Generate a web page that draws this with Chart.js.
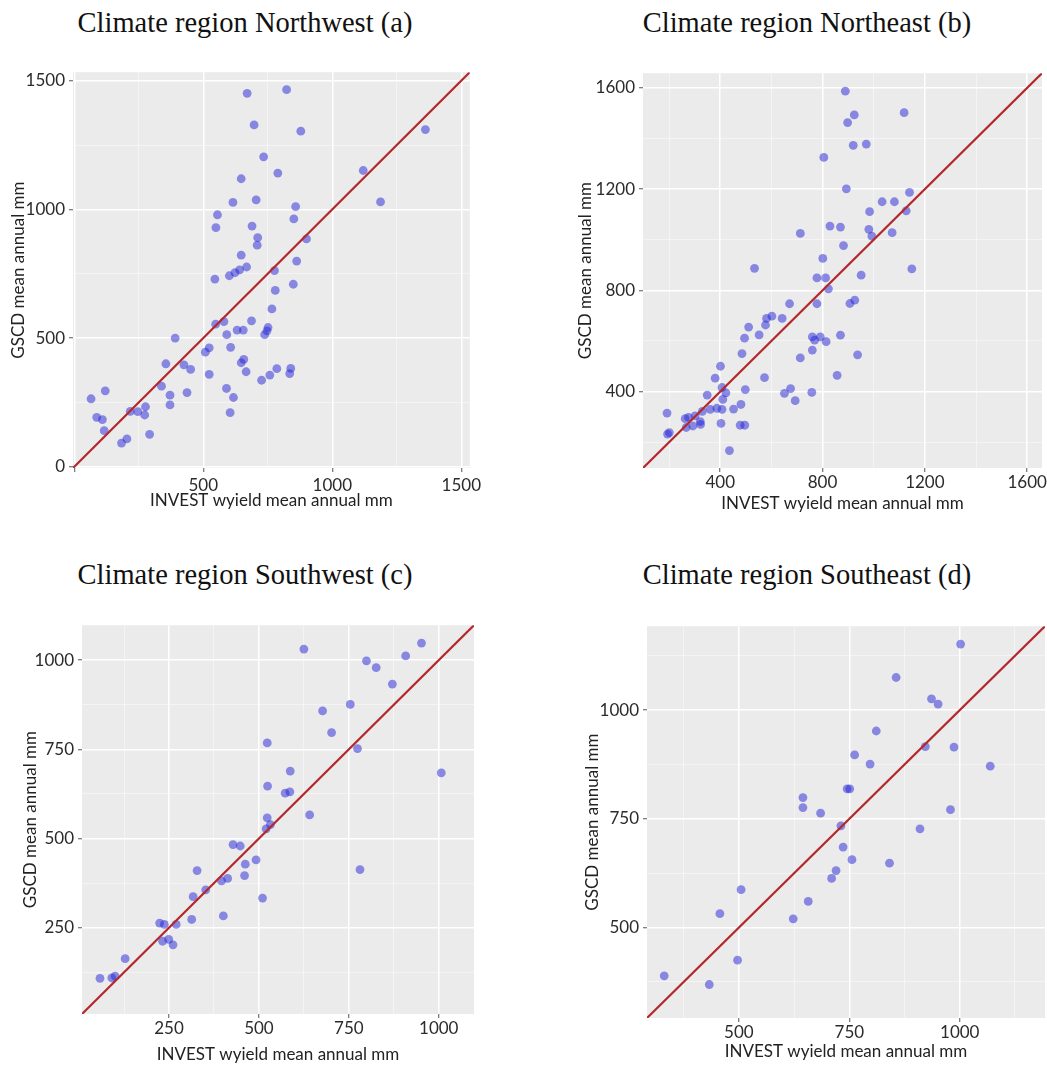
<!DOCTYPE html>
<html>
<head>
<meta charset="utf-8">
<script src="https://cdn.jsdelivr.net/npm/chart.js@4.4.1/dist/chart.umd.min.js"></script>
<style>
  body { margin: 0; background: #fff; width: 1047px; height: 1066px; position: relative; overflow: hidden; }
  .title { position: absolute; font-family: "Liberation Serif", serif; font-size: 28.5px; color: #111; transform: translateX(-50%); white-space: nowrap; }
  canvas { position: absolute; }
</style>
</head>
<body>
<div class="title" style="left:245px;top:7px">Climate region Northwest (a)</div>
<div class="title" style="left:807px;top:7px">Climate region Northeast (b)</div>
<div class="title" style="left:245px;top:559px">Climate region Southwest (c)</div>
<div class="title" style="left:807px;top:559px">Climate region Southeast (d)</div>
<canvas id="nw"></canvas>
<canvas id="ne"></canvas>
<canvas id="sw"></canvas>
<canvas id="se"></canvas>
<script>
// Northwest (a)
const nwX = [670, 823, 697, 878, 1361, 734, 789, 1120, 647, 705, 615, 1187, 858, 555, 851, 549, 689, 711, 709, 900,
  647, 862, 545, 601, 623, 641, 668, 776, 779, 849, 766, 548, 580, 687, 631, 655, 751, 747, 738, 591,
  391, 523, 508, 606, 657, 647, 666, 523, 355, 425, 451, 785, 839, 835, 758, 726, 338, 437, 371, 371,
  590, 617, 604, 65, 120, 87, 109, 116, 217, 246, 276, 273, 292, 204, 183];
const nwY = [1451, 1465, 1328, 1304, 1310, 1204, 1141, 1151, 1119, 1037, 1027, 1029, 1011, 979, 963, 929, 935, 890, 861, 885,
  822, 799, 729, 742, 754, 765, 776, 762, 685, 709, 613, 554, 564, 567, 531, 531, 541, 528, 513, 513,
  500, 462, 445, 464, 417, 404, 369, 359, 400, 396, 378, 381, 382, 362, 356, 336, 313, 288, 278, 240,
  304, 269, 210, 264, 295, 192, 183, 140, 215, 214, 233, 201, 126, 108, 92];
const nwRange = [-5, 1533];
const nwMajor = [0, 500, 1000, 1500];
const nwMinor = [250, 750, 1250];
const nwLabelsX = [500, 1000, 1500];
const nwLabelsY = [0, 500, 1000, 1500];

// Northeast (b)
const neX = [889, 924, 898, 1119, 920, 971, 805, 893, 1140, 1033, 1081, 984, 1127, 829, 870, 981, 993, 1072, 713, 882,
  801, 534, 1149, 778, 812, 951, 823, 671, 778, 907, 926, 602, 581, 577, 642, 511, 552, 495, 760, 791,
  769, 814, 870, 760, 713, 937, 485, 401, 380, 573, 857, 651, 675, 758, 693, 498, 407, 422, 349, 410,
  361, 387, 407, 452, 481, 403, 478, 496, 436, 192, 201, 194, 263, 276, 302, 267, 293, 323, 330, 322];
const neY = [1587, 1493, 1463, 1502, 1373, 1378, 1325, 1201, 1187, 1150, 1150, 1111, 1114, 1054, 1050, 1041, 1014, 1028, 1025, 977,
  926, 887, 885, 849, 849, 860, 806, 747, 747, 748, 761, 698, 689, 663, 689, 655, 624, 611, 616, 616,
  603, 597, 623, 564, 533, 545, 550, 500, 453, 455, 464, 393, 412, 397, 364, 408, 416, 395, 386, 369,
  330, 334, 330, 331, 349, 274, 267, 267, 167, 315, 238, 232, 293, 298, 304, 258, 264, 270, 322, 281];
const neRange = [98, 1658];
const neMajor = [400, 800, 1200, 1600];
const neMinor = [200, 600, 1000, 1400];
const neLabelsX = [400, 800, 1200, 1600];
const neLabelsY = [400, 800, 1200, 1600];

// Southwest (c)
const swX = [625, 952, 908, 799, 826, 871, 754, 677, 702, 523, 774, 587, 1007, 524, 573, 586, 641, 523, 532, 520,
  428, 448, 492, 462, 460, 328, 396, 413, 781, 352, 317, 510, 401, 313, 224, 237, 270, 232, 249, 261,
  128, 58, 91, 100];
const swY = [1031, 1048, 1012, 998, 979, 933, 876, 858, 797, 768, 752, 689, 684, 647, 627, 631, 566, 558, 539, 527,
  483, 479, 440, 428, 396, 410, 381, 388, 413, 356, 337, 333, 283, 273, 263, 259, 259, 212, 217, 202,
  163, 108, 109, 114];
const swRange = [8, 1098];
const swMajor = [250, 500, 750, 1000];
const swMinor = [125, 375, 625, 875];
const swLabelsX = [250, 500, 750, 1000];
const swLabelsY = [250, 500, 750, 1000];

// Southeast (d)
const seX = [1002, 856, 936, 951, 811, 762, 797, 922, 987, 1069, 745, 751, 645, 645, 685, 979, 731, 910, 736, 756,
  841, 720, 710, 505, 657, 457, 623, 497, 331, 433];
const seY = [1152, 1075, 1026, 1014, 952, 897, 876, 916, 915, 871, 819, 819, 799, 776, 763, 771, 734, 727, 685, 656,
  648, 631, 613, 587, 560, 532, 520, 425, 389, 369];
const seRange = [292, 1193];
const seMajor = [500, 750, 1000];
const seMinor = [375, 625, 875, 1125];
const seLabelsX = [500, 750, 1000];
const seLabelsY = [500, 750, 1000];

const PANEL_BG = "#EBEBEB";
const POINT_COLOR = "rgba(35, 35, 215, 0.5)";
const LINE_COLOR = "#B3282B";

// grey panel behind the grid
const panelBg = {
    id: "panelBg",
    beforeDraw(chart) {
        const a = chart.chartArea;
        const ctx = chart.ctx;
        ctx.save();
        ctx.fillStyle = PANEL_BG;
        ctx.fillRect(a.left, a.top, a.right - a.left, a.bottom - a.top);
        ctx.restore();
    }
};

function axis(range, major, minor, labels, title, labelPad, size) {
    const all = major.concat(minor).filter(v => v >= range[0] && v <= range[1]).sort((a, b) => a - b);
    return {
        type: "linear",
        min: range[0],
        max: range[1],
        afterBuildTicks: s => { s.ticks = all.map(v => ({ value: v })); },
        afterFit: s => {
            if (s.isHorizontal()) s.height = size; else s.width = size;
        },
        ticks: {
            autoSkip: false,
            maxRotation: 0,
            padding: labelPad,
            color: "#2b2b2b",
            font: { family: "Lato", size: 17 },
            callback: v => labels.includes(v) ? String(v) : ""
        },
        grid: {
            color: c => major.includes(c.tick.value) ? "#ffffff" : "rgba(255,255,255,0.55)",
            lineWidth: c => major.includes(c.tick.value) ? 1.5 : 0.8,
            tickColor: c => major.includes(c.tick.value) ? "#555" : "rgba(0,0,0,0)",
            tickLength: 4,
            tickWidth: 1
        },
        border: { display: false },
        title: {
            display: true,
            text: title,
            color: "#222",
            padding: 0,
            font: { family: "Lato", size: 17 }
        }
    };
}

function makePanel(id, xs, ys, range, major, minor, labelsX, labelsY, box) {
    const wy = box.l - box.yTitleX + 10;
    const hx = box.xTitleY - box.b + 10;
    const left = box.l - wy;
    const top = box.t - 10;
    const width = box.r + 10 - left;
    const height = box.b + hx - top;
    const canvas = document.getElementById(id);
    canvas.width = width;
    canvas.height = height;
    canvas.style.left = left + "px";
    canvas.style.top = top + "px";
    canvas.style.width = width + "px";
    canvas.style.height = height + "px";

    const xPad = Math.max(0, box.xTickY - box.b - 4 - 10.2);

    new Chart(canvas, {
        type: "scatter",
        data: {
            datasets: [
                {
                    label: "1:1",
                    data: [{ x: range[0], y: range[0] }, { x: range[1], y: range[1] }],
                    showLine: true,
                    borderColor: LINE_COLOR,
                    borderWidth: 2.2,
                    pointRadius: 0
                },
                {
                    label: "basins",
                    data: xs.map((x, i) => ({ x: x, y: ys[i] })),
                    backgroundColor: POINT_COLOR,
                    borderWidth: 0,
                    pointRadius: 4.4
                }
            ]
        },
        options: {
            responsive: false,
            animation: false,
            layout: { padding: { left: 0, top: 10, right: 10, bottom: 0 } },
            plugins: { legend: { display: false }, tooltip: { enabled: false } },
            scales: {
                x: axis(range, major, minor, labelsX, "INVEST wyield mean annual mm", xPad, hx),
                y: axis(range, major, minor, labelsY, "GSCD mean annual mm", 4, wy)
            }
        },
        plugins: [panelBg]
    });
}

makePanel("nw", nwX, nwY, nwRange, nwMajor, nwMinor, nwLabelsX, nwLabelsY,
    { l: 73, r: 475, t: 68, b: 468, yTitleX: 18, xTickY: 486, xTitleY: 501 });
makePanel("ne", neX, neY, neRange, neMajor, neMinor, neLabelsX, neLabelsY,
    { l: 643, r: 1042, t: 69, b: 468, yTitleX: 585, xTickY: 483, xTitleY: 504 });
makePanel("sw", swX, swY, swRange, swMajor, swMinor, swLabelsX, swLabelsY,
    { l: 82, r: 474, t: 621, b: 1014, yTitleX: 30, xTickY: 1028, xTitleY: 1055 });
makePanel("se", seX, seY, seRange, seMajor, seMinor, seLabelsX, seLabelsY,
    { l: 647, r: 1045, t: 622, b: 1018, yTitleX: 592, xTickY: 1033, xTitleY: 1052 });
</script>
</body>
</html>
